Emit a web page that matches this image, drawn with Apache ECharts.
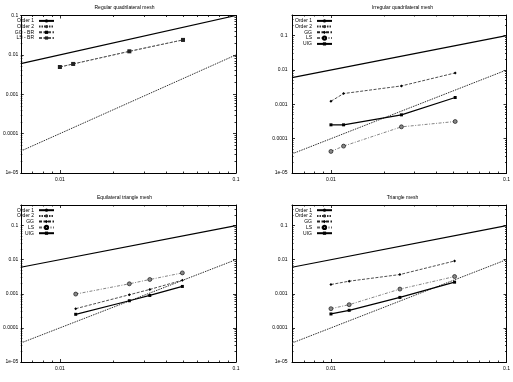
<!DOCTYPE html>
<html><head><meta charset="utf-8">
<script src="https://cdn.jsdelivr.net/npm/echarts@6/dist/echarts.min.js"></script>
<style>html,body{margin:0;padding:0;background:#fff}#c{width:513px;height:382px}</style>
</head><body><div id="c"></div>
<script>
const titles = ['Regular quadrilateral mesh', 'Irregular quadrilateral mesh', 'Equilateral triangle mesh', 'Triangle mesh'];
const yTickLabels = ['1e-05', '0.0001', '0.001', '0.01', '0.1'];
const xTickLabels = ['0.01', '0.1'];
const xMinorTicks = [0.007, 0.008, 0.009, 0.02, 0.03, 0.04, 0.05, 0.06, 0.07, 0.08, 0.09];
const yMinorTicks = [2e-5, 3e-5, 4e-5, 5e-5, 6e-5, 7e-5, 8e-5, 9e-5,
  2e-4, 3e-4, 4e-4, 5e-4, 6e-4, 7e-4, 8e-4, 9e-4,
  2e-3, 3e-3, 4e-3, 5e-3, 6e-3, 7e-3, 8e-3, 9e-3,
  0.02, 0.03, 0.04, 0.05, 0.06, 0.07, 0.08, 0.09, 0.2, 0.3];

// reference order lines (end points)
const orderX = [0.006, 0.1];
const order1 = [0.006, 0.1];
const order2 = [0.000036, 0.01];

// Regular quadrilateral mesh
const regX = [0.01, 0.0119, 0.0248, 0.05];
const regGG = [0.00492, 0.00589, 0.0123, 0.024];
const regLS = [0.00492, 0.00589, 0.0123, 0.024];
// Irregular quadrilateral mesh
const irrX = [0.01, 0.0118, 0.0252, 0.051];
const irrGG = [0.00123, 0.00206, 0.00344, 0.00822];
const irrLS = [4.25e-5, 6.07e-5, 2.21e-4, 3.16e-4];
const irrUIG = [2.53e-4, 2.53e-4, 4.94e-4, 1.58e-3];
// Equilateral triangle mesh
const equX = [0.0123, 0.0248, 0.0324, 0.0496];
const equGG = [3.66e-4, 9.35e-4, 1.34e-3, 2.5e-3];
const equLS = [9.8e-4, 1.96e-3, 2.62e-3, 4.09e-3];
const equUIG = [2.5e-4, 6.25e-4, 8.93e-4, 1.64e-3];
// Triangle mesh
const triX = [0.01, 0.0127, 0.0247, 0.0506];
const triGG = [1.87e-3, 2.34e-3, 3.66e-3, 9.15e-3];
const triLS = [3.66e-4, 4.79e-4, 1.37e-3, 3.2e-3];
const triUIG = [2.56e-4, 3.27e-4, 7.82e-4, 2.19e-3];

const FONT = 'Liberation Sans, Arial, sans-serif';
const zip = (xs, ys) => xs.map((x, i) => [x, ys[i]]);
const isDecade = v => { const l = Math.log10(v); return Math.abs(l - Math.round(l)) < 0.01; };
const yFmt = v => isDecade(v) ? (yTickLabels[Math.round(Math.log10(v)) + 5] || '') : '';
const xFmt = v => isDecade(v) ? (xTickLabels[Math.round(Math.log10(v)) + 2] || '') : '';

const grids = [
  {left: 13, top: 15.5, width: 223, height: 157.5},
  {left: 292, top: 15, width: 221, height: 158},
  {left: 13, top: 205, width: 223, height: 157},
  {left: 292, top: 205, width: 221, height: 157}
];
const yMax = [0.1, 0.4, 0.4, 0.4];
const yLabelMargin = [2.5, 4.5, 2.5, 4.5];

const xAxes = [], yAxes = [];
const tickStyle = {color: '#000', width: 0.8};
grids.forEach((g, i) => {
  const xb = {type: 'log', gridIndex: i, min: 0.006, max: 0.1, splitLine: {show: false}};
  const yb = {type: 'log', gridIndex: i, min: 1e-5, max: yMax[i], splitLine: {show: false}};
  // main axes (index 4*i)
  xAxes.push(Object.assign({}, xb, {position: 'bottom',
    axisLine: {lineStyle: {color: '#000', width: 1}},
    axisTick: {inside: true, length: 3, lineStyle: tickStyle},
    axisLabel: {fontSize: 5, fontFamily: FONT, color: '#000', margin: 4, formatter: xFmt}}));
  yAxes.push(Object.assign({}, yb, {position: 'left',
    axisLine: {lineStyle: {color: '#000', width: 1}},
    axisTick: {inside: true, length: 3, lineStyle: tickStyle},
    axisLabel: {fontSize: 5, fontFamily: FONT, color: '#000', margin: yLabelMargin[i], formatter: yFmt}}));
  // minor ticks bottom / left
  xAxes.push(Object.assign({}, xb, {position: 'bottom', axisLine: {show: false}, axisLabel: {show: false},
    axisTick: {inside: true, length: 1.5, lineStyle: tickStyle, customValues: xMinorTicks}}));
  yAxes.push(Object.assign({}, yb, {position: 'left', axisLine: {show: false}, axisLabel: {show: false},
    axisTick: {inside: true, length: 1.5, lineStyle: tickStyle, customValues: yMinorTicks}}));
  // mirrored top / right
  xAxes.push(Object.assign({}, xb, {position: 'top', axisLine: {lineStyle: {color: '#000', width: 1}}, axisLabel: {show: false},
    axisTick: {inside: true, length: 3, lineStyle: tickStyle}}));
  yAxes.push(Object.assign({}, yb, {position: 'right', axisLine: {lineStyle: {color: '#000', width: 1}}, axisLabel: {show: false},
    axisTick: {inside: true, length: 3, lineStyle: tickStyle}}));
  xAxes.push(Object.assign({}, xb, {position: 'top', axisLine: {show: false}, axisLabel: {show: false},
    axisTick: {inside: true, length: 1.5, lineStyle: tickStyle, customValues: xMinorTicks}}));
  yAxes.push(Object.assign({}, yb, {position: 'right', axisLine: {show: false}, axisLabel: {show: false},
    axisTick: {inside: true, length: 1.5, lineStyle: tickStyle, customValues: yMinorTicks}}));
});

const series = [];
function addOrders(i) {
  series.push({name: 'Order 1', type: 'line', xAxisIndex: 4 * i, yAxisIndex: 4 * i, data: zip(orderX, order1),
    symbol: 'none', color: '#000', itemStyle: {color: '#000'}, lineStyle: {color: '#000', width: 1.2, type: 'solid'}});
  series.push({name: 'Order 2', type: 'line', xAxisIndex: 4 * i, yAxisIndex: 4 * i, data: zip(orderX, order2),
    symbol: 'none', color: '#333', itemStyle: {color: '#333'}, lineStyle: {color: '#333', width: 1, type: [1.5, 1]}});
}
const ggStyle = {symbol: 'diamond', symbolSize: 3, color: '#000', itemStyle: {color: '#000'}, lineStyle: {color: '#222', width: 0.8, type: [3, 1.5]}};
const lsStyle = {symbol: 'circle', symbolSize: 4, color: '#888', itemStyle: {color: '#888', borderColor: '#000', borderWidth: 0.6}, lineStyle: {color: '#666', width: 0.8, type: [3, 1.5, 1, 1.5]}};
const uigStyle = {symbol: 'rect', symbolSize: 3, color: '#000', itemStyle: {color: '#000'}, lineStyle: {color: '#000', width: 1.2, type: 'solid'}};
function addS(name, i, xs, ys, st) {
  series.push(Object.assign({name, type: 'line', xAxisIndex: 4 * i, yAxisIndex: 4 * i, data: zip(xs, ys), showAllSymbol: true}, JSON.parse(JSON.stringify(st))));
}

addOrders(0);
addS('GG - BR', 0, regX, regGG, {symbol: 'rect', symbolSize: 3, color: '#000', itemStyle: {color: '#000'}, lineStyle: {color: '#444', width: 0.8, type: [3, 1.5]}});
addS('LS - BR', 0, regX, regLS, {symbol: 'rect', symbolSize: 4, color: '#222', itemStyle: {color: '#222'}, lineStyle: {color: '#555', width: 0.8, type: [3, 1.5]}});
addOrders(1);
addS('GG', 1, irrX, irrGG, ggStyle);
addS('LS', 1, irrX, irrLS, lsStyle);
addS('UIG', 1, irrX, irrUIG, uigStyle);
addOrders(2);
addS('GG', 2, equX, equGG, ggStyle);
addS('LS', 2, equX, equLS, lsStyle);
addS('UIG', 2, equX, equUIG, uigStyle);
addOrders(3);
addS('GG', 3, triX, triGG, ggStyle);
addS('LS', 3, triX, triLS, lsStyle);
addS('UIG', 3, triX, triUIG, uigStyle);

const legendBase = {orient: 'vertical', align: 'right', padding: 0, itemWidth: 15, itemHeight: 4, itemGap: 0.7,
  textStyle: {fontSize: 5, fontFamily: FONT, color: '#000', lineHeight: 4}, selectedMode: false};
const legends = [
  Object.assign({}, legendBase, {data: ['Order 1', 'Order 2', 'GG - BR', 'LS - BR'], right: 458, top: 18.4}),
  Object.assign({}, legendBase, {data: ['Order 1', 'Order 2', 'GG', 'LS', 'UIG'], right: 180, top: 18.4}),
  Object.assign({}, legendBase, {data: ['Order 1', 'Order 2', 'GG', 'LS', 'UIG'], right: 458, top: 207.7}),
  Object.assign({}, legendBase, {data: ['Order 1', 'Order 2', 'GG', 'LS', 'UIG'], right: 180, top: 207.7})
];

const titleCenters = [[124.5, 5], [402.5, 5], [124.5, 195], [402.5, 195]];
const titleOpts = titles.map((t, i) => ({text: t, left: titleCenters[i][0], top: titleCenters[i][1], textAlign: 'center', padding: 0,
  textStyle: {fontSize: 5, fontWeight: 'normal', fontFamily: FONT, color: '#000'}}));

const chart = echarts.init(document.getElementById('c'), null, {renderer: 'canvas'});
chart.setOption({
  animation: false,
  backgroundColor: '#fff',
  color: ['#000'],
  title: titleOpts,
  legend: legends,
  grid: grids.map(g => Object.assign({show: false, containLabel: false}, g)),
  xAxis: xAxes,
  yAxis: yAxes,
  series: series
});
</script></body></html>
